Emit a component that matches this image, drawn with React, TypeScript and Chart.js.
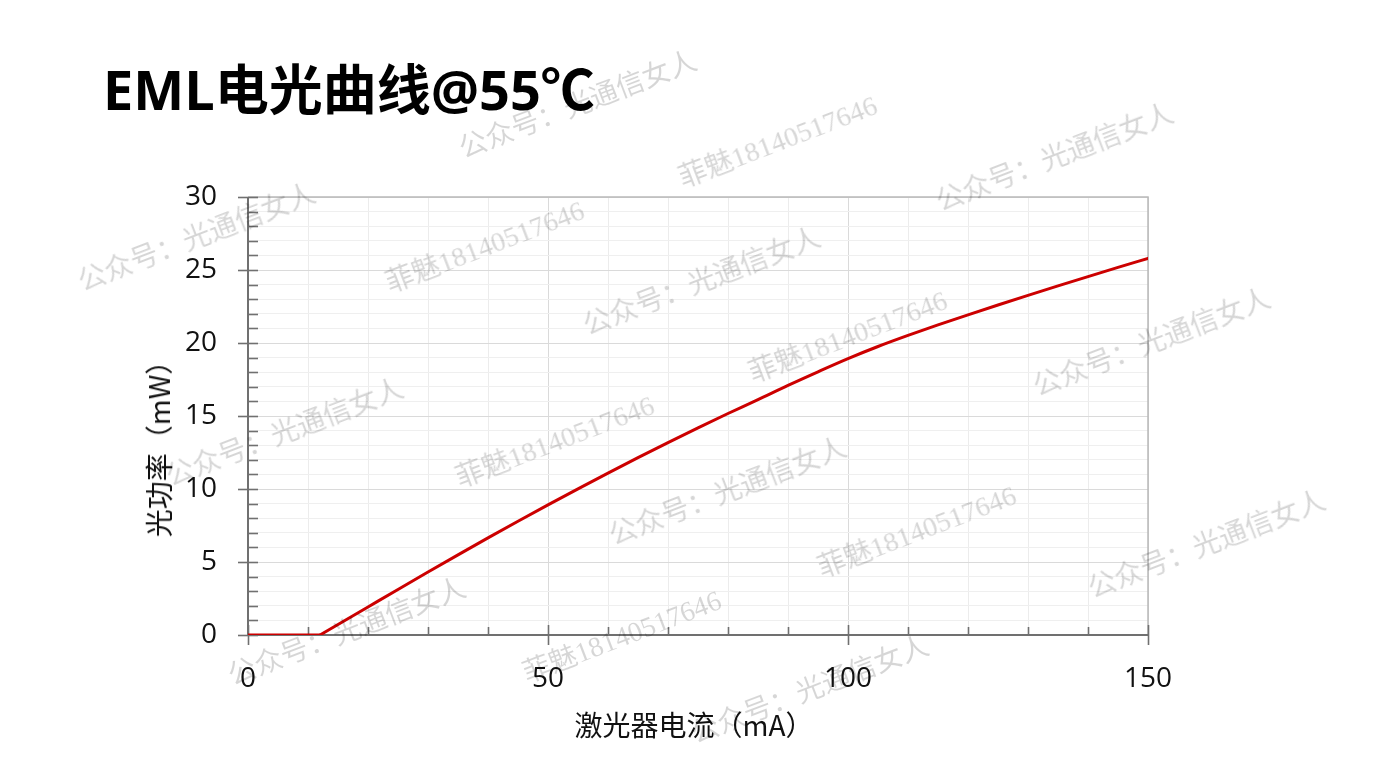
import React, { useEffect, useRef } from "react";
import { Chart, registerables } from "chart.js";

Chart.register(...registerables);

// ---- data ----
// below threshold (flat part)
const currentBelow = [0, 5, 10, 12];
const powerBelow = [0, 0, 0, 0];
// above threshold
const currentMA = [12, 15, 20, 25, 30, 35, 40, 45, 50, 55, 60, 65, 70, 75, 80, 85, 90, 95, 100, 105, 110, 115, 120, 125, 130, 135, 140, 145, 150];
const powerMW = [0, 0.72, 1.92, 3.12, 4.31, 5.49, 6.65, 7.79, 8.91, 10.01, 11.09, 12.15, 13.18, 14.19, 15.17, 16.12, 17.1, 18.03, 18.93, 19.76, 20.52, 21.24, 21.93, 22.6, 23.26, 23.91, 24.55, 25.18, 25.8];
const xTickLabels = [0, 50, 100, 150];
const yTickLabels = [0, 5, 10, 15, 20, 25, 30];

const titleText = "EML电光曲线@55℃";
const xTitle = "激光器电流（mA）";
const yTitle = "光功率（mW）";

const watermarkA = "公众号：光通信女人";
const watermarkB = "菲魅18140517646";
const watermarkAPos = [[578, 105], [1055, 158], [197, 238], [702, 282], [1152, 343], [285, 433], [728, 492], [1207, 545], [347, 632], [810, 690]];
const watermarkBPos = [[778, 142], [485, 247], [848, 337], [555, 442], [917, 532], [622, 637]];

const tickFont = '"Open Sans", "Noto Sans CJK SC", sans-serif';
const lineColor = "#cc0000";

const axesPlugin = {
  id: "axesTicks",
  beforeDatasetsDraw(chart: any) {
    const { ctx, chartArea: a, scales } = chart;
    const x = scales.x;
    const y = scales.y;
    ctx.save();
    ctx.strokeStyle = "#b9b9b9";
    ctx.lineWidth = 1.5;
    ctx.beginPath();
    ctx.moveTo(a.left, a.top);
    ctx.lineTo(a.right, a.top);
    ctx.lineTo(a.right, a.bottom);
    ctx.stroke();

    ctx.strokeStyle = "#707070";
    ctx.lineWidth = 2;
    ctx.beginPath();
    ctx.moveTo(a.left, a.top);
    ctx.lineTo(a.left, a.bottom);
    ctx.lineTo(a.right, a.bottom);
    ctx.stroke();

    ctx.lineWidth = 1.6;
    y.ticks.forEach((t: any) => {
      const py = Math.round(y.getPixelForValue(t.value)) + 0.5;
      const major = yTickLabels.includes(t.value);
      ctx.beginPath();
      ctx.moveTo(major ? a.left - 10 : a.left, py);
      ctx.lineTo(a.left + 10, py);
      ctx.stroke();
    });
    x.ticks.forEach((t: any) => {
      const px = Math.round(x.getPixelForValue(t.value)) + 0.5;
      const major = xTickLabels.includes(t.value);
      ctx.beginPath();
      ctx.moveTo(px, major ? a.bottom - 10 : a.bottom - 8);
      ctx.lineTo(px, major ? a.bottom + 10 : a.bottom);
      ctx.stroke();
    });
    ctx.restore();
  },
};

export default function App() {
  const ref = useRef<HTMLCanvasElement | null>(null);

  useEffect(() => {
    if (!ref.current) return;
    const chart = new Chart(ref.current, {
      type: "line",
      data: {
        datasets: [
          {
            data: currentBelow.map((c, i) => ({ x: c, y: powerBelow[i] })),
            borderColor: lineColor,
            borderWidth: 3,
            pointRadius: 0,
            tension: 0,
            fill: false,
          },
          {
            data: currentMA.map((c, i) => ({ x: c, y: powerMW[i] })),
            borderColor: lineColor,
            borderWidth: 3,
            pointRadius: 0,
            cubicInterpolationMode: "monotone",
            borderCapStyle: "round",
            fill: false,
          },
        ],
      },
      options: {
        responsive: false,
        animation: false,
        layout: { padding: { top: 197, right: 236, left: 0, bottom: 0 } },
        plugins: { legend: { display: false }, tooltip: { enabled: false }, title: { display: false } },
        scales: {
          x: {
            type: "linear",
            min: 0,
            max: 150,
            afterFit: (s: any) => {
              s.height = 144;
            },
            border: { display: false },
            grid: {
              drawTicks: false,
              lineWidth: 1,
              color: (c: any) => (c.tick && xTickLabels.includes(c.tick.value) ? "#dadada" : "#ececec"),
            },
            ticks: {
              stepSize: 10,
              autoSkip: false,
              maxRotation: 0,
              padding: 27,
              color: "#111",
              font: { family: tickFont, size: 28 },
              callback: (v: any) => (xTickLabels.includes(Number(v)) ? String(v) : ""),
            },
          },
          y: {
            type: "linear",
            min: 0,
            max: 30,
            afterFit: (s: any) => {
              s.width = 248;
            },
            border: { display: false },
            grid: {
              drawTicks: false,
              lineWidth: 1,
              color: (c: any) => (c.tick && yTickLabels.includes(c.tick.value) ? "#dadada" : "#efefef"),
            },
            ticks: {
              stepSize: 1,
              autoSkip: false,
              padding: 31,
              color: "#111",
              font: { family: tickFont, size: 28 },
              callback: (v: any) => (yTickLabels.includes(Number(v)) ? String(v) : ""),
            },
          },
        },
      },
      plugins: [axesPlugin],
    } as any);
    return () => chart.destroy();
  }, []);

  const wmStyle = (x: number, y: number): React.CSSProperties => ({
    position: "absolute",
    left: x,
    top: y,
    transform: "translate(-50%, -50%) rotate(-21deg)",
    whiteSpace: "nowrap",
    fontFamily: '"Liberation Serif", "Noto Sans CJK SC", serif',
    fontSize: 28,
    lineHeight: 1,
    color: "rgba(0,0,0,0.16)",
    pointerEvents: "none",
  });

  return (
    <div style={{ position: "absolute", left: 0, top: 0, width: 1384, height: 779, background: "#fff", overflow: "hidden" }}>
      <canvas ref={ref} width={1384} height={779} style={{ position: "absolute", left: 0, top: 0 }} />
      <div
        style={{
          position: "absolute",
          left: 103,
          top: 62,
          fontFamily: '"Open Sans", "Noto Sans CJK SC", sans-serif',
          fontWeight: 700,
          fontSize: 54,
          lineHeight: 1,
          color: "#000",
          whiteSpace: "nowrap",
        }}
      >
        {titleText}
      </div>
      <div
        style={{
          position: "absolute",
          left: 694,
          top: 724,
          transform: "translate(-50%, -50%)",
          fontFamily: '"Noto Sans CJK SC", sans-serif',
          fontSize: 28,
          lineHeight: 1,
          color: "#111",
          whiteSpace: "nowrap",
        }}
      >
        {xTitle}
      </div>
      <div
        style={{
          position: "absolute",
          left: 158,
          top: 442,
          transform: "translate(-50%, -50%) rotate(-90deg)",
          fontFamily: '"Noto Sans CJK SC", sans-serif',
          fontSize: 28,
          lineHeight: 1,
          color: "#111",
          whiteSpace: "nowrap",
        }}
      >
        {yTitle}
      </div>
      {watermarkAPos.map(([x, y], i) => (
        <div key={"a" + i} style={wmStyle(x, y)}>
          {watermarkA}
        </div>
      ))}
      {watermarkBPos.map(([x, y], i) => (
        <div key={"b" + i} style={wmStyle(x, y)}>
          {watermarkB}
        </div>
      ))}
    </div>
  );
}
